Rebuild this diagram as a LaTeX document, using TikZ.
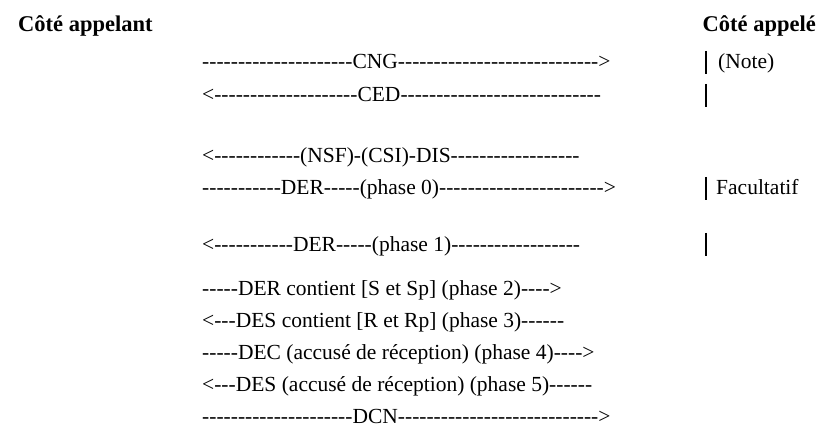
\documentclass[tikz,border=0pt]{standalone}
\usepackage{fontspec}
\setmainfont[Ligatures=TeXOff]{Liberation Serif}
\begin{document}
\begin{tikzpicture}[x=1pt,y=1pt,
  msg/.style={anchor=base west,inner sep=0pt,font=\fontsize{21.5}{26}\selectfont},
  hdr/.style={inner sep=0pt,font=\fontsize{22.5}{27}\selectfont\bfseries},
  side/.style={anchor=base west,inner sep=0pt,font=\fontsize{21.5}{26}\selectfont},
  bar/.style={line width=2pt}]
\useasboundingbox (0,0) rectangle (818,-427);
\fill[white] (0,0) rectangle (818,-427);
\node[hdr,anchor=base west] (hl) at (18,-32) {Côté appelant};
\node[hdr,anchor=base east] (hr) at (816,-32) {Côté appelé};
\node[msg] (m1) at (202,-69) {---------------------CNG---------------------------->};
\node[msg] (m2) at (202,-102) {<--------------------CED----------------------------};
\node[msg] (m3) at (202,-163) {<------------(NSF)-(CSI)-DIS------------------};
\node[msg] (m4) at (202,-195) {-----------DER-----(phase 0)----------------------->};
\node[msg] (m5) at (202,-252) {<-----------DER-----(phase 1)------------------};
\node[msg] (m6) at (202,-295) {-----DER contient [S et Sp] (phase 2)---->};
\node[msg] (m7) at (202,-327) {<---DES contient [R et Rp] (phase 3)------};
\node[msg] (m8) at (202,-359) {-----DEC (accusé de réception) (phase 4)---->};
\node[msg] (m9) at (202,-391) {<---DES (accusé de réception) (phase 5)------};
\node[msg] (m10) at (202,-423) {---------------------DCN---------------------------->};
\node[side] (note) at (718,-69) {(Note)};
\node[side] (fac) at (716,-195) {Facultatif};
\draw[bar] (706,-51) -- (706,-74);
\draw[bar] (706,-84) -- (706,-107);
\draw[bar] (706,-177) -- (706,-200);
\draw[bar] (706,-233) -- (706,-256);
\end{tikzpicture}
\end{document}
